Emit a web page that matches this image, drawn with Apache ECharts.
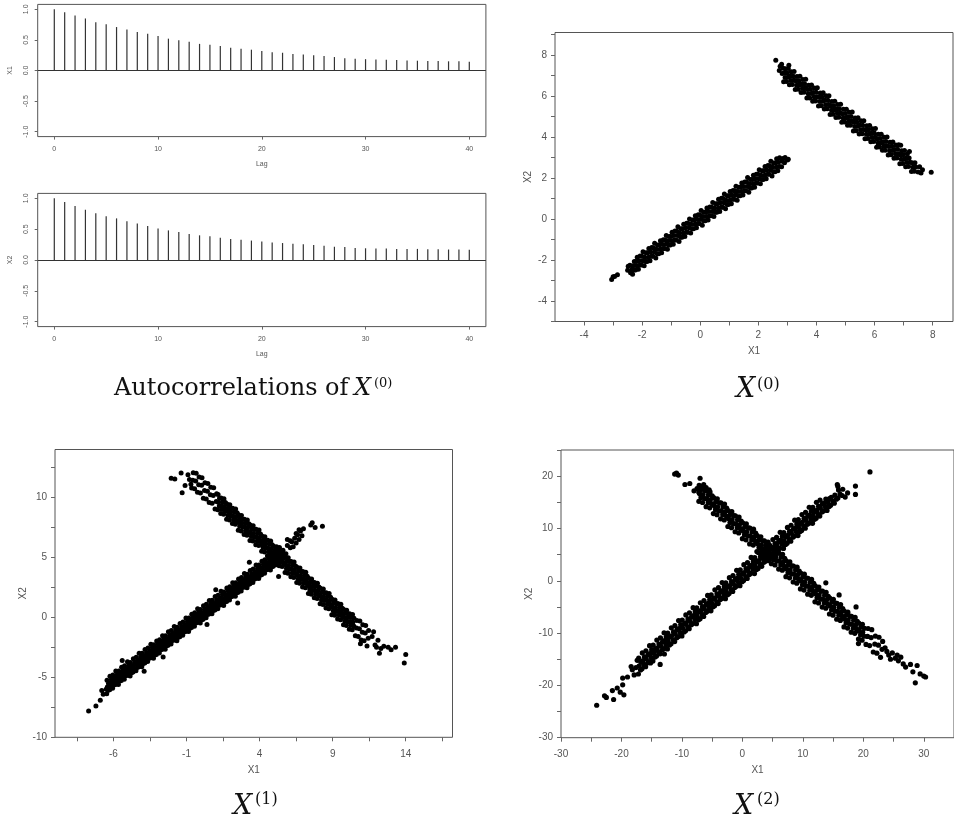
<!DOCTYPE html>
<html><head><meta charset="utf-8">
<script src="https://cdn.jsdelivr.net/npm/echarts@6/dist/echarts.min.js"></script>
<style>html,body{margin:0;padding:0;background:#fff}#c{width:954px;height:820px}</style>
</head><body><div id="c"></div><script>
// ---------- ACF data ----------
const lags = [0,1,2,3,4,5,6,7,8,9,10,11,12,13,14,15,16,17,18,19,20,21,22,23,24,25,26,27,28,29,30,31,32,33,34,35,36,37,38,39,40];
const acfX1 = [1.0,0.95,0.90,0.85,0.79,0.755,0.71,0.67,0.63,0.60,0.565,0.52,0.495,0.47,0.435,0.42,0.40,0.37,0.355,0.34,0.32,0.30,0.29,0.27,0.26,0.25,0.235,0.22,0.20,0.19,0.185,0.18,0.175,0.17,0.165,0.16,0.155,0.155,0.15,0.15,0.145];
const acfX2 = [1.0,0.94,0.875,0.815,0.76,0.71,0.675,0.63,0.59,0.55,0.51,0.48,0.455,0.42,0.40,0.385,0.36,0.34,0.33,0.315,0.30,0.285,0.275,0.265,0.255,0.245,0.23,0.215,0.21,0.195,0.19,0.185,0.185,0.18,0.18,0.18,0.175,0.175,0.17,0.17,0.165];

// ---------- X(0) scatter ----------
const x0Lower = [[-3.05,-2.95],[-2.95,-2.8],[-2.85,-2.72],[-3.0,-2.82],
[-2.5,-2.5],[-2.48,-2.3],[-2.4,-2.62],[-2.42,-2.25],[-2.35,-2.45],
[-2.33,-2.7],[-2.28,-2.49],[-2.31,-2.28],[-2.27,-2.07],
[-2.23,-2.49],[-2.18,-2.28],[-2.21,-2.07],[-2.17,-1.86],
[-2.13,-2.45],[-2.08,-2.24],[-2.11,-2.03],[-2.07,-1.81],
[-2.03,-2.24],[-1.98,-2.03],[-2.01,-1.82],[-1.97,-1.6],
[-1.93,-2.28],[-1.88,-2.07],[-1.91,-1.86],[-1.87,-1.65],
[-1.83,-2.07],[-1.78,-1.86],[-1.81,-1.65],[-1.77,-1.44],
[-1.73,-2.03],[-1.68,-1.82],[-1.71,-1.61],[-1.67,-1.39],
[-1.63,-1.82],[-1.58,-1.61],[-1.61,-1.4],[-1.57,-1.18],
[-1.53,-1.9],[-1.48,-1.69],[-1.51,-1.48],[-1.47,-1.27],
[-1.43,-1.69],[-1.38,-1.48],[-1.41,-1.27],[-1.37,-1.06],
[-1.33,-1.65],[-1.28,-1.44],[-1.31,-1.23],[-1.27,-1.01],
[-1.23,-1.44],[-1.18,-1.23],[-1.21,-1.02],[-1.17,-0.8],
[-1.13,-1.48],[-1.08,-1.27],[-1.11,-1.06],[-1.07,-0.85],
[-1.03,-1.27],[-0.98,-1.06],[-1.01,-0.85],[-0.97,-0.64],
[-0.93,-1.23],[-0.88,-1.02],[-0.91,-0.81],[-0.87,-0.59],
[-0.83,-1.02],[-0.78,-0.81],[-0.81,-0.6],[-0.77,-0.38],
[-0.73,-1.1],[-0.68,-0.89],[-0.71,-0.68],[-0.67,-0.47],
[-0.63,-0.89],[-0.58,-0.68],[-0.61,-0.47],[-0.57,-0.26],
[-0.53,-0.85],[-0.48,-0.64],[-0.51,-0.43],[-0.47,-0.21],
[-0.43,-0.64],[-0.38,-0.43],[-0.41,-0.22],[-0.37,0.0],
[-0.33,-0.68],[-0.28,-0.47],[-0.31,-0.26],[-0.27,-0.05],
[-0.23,-0.47],[-0.18,-0.26],[-0.21,-0.05],[-0.17,0.16],
[-0.13,-0.43],[-0.08,-0.22],[-0.11,-0.01],[-0.07,0.21],
[-0.03,-0.22],[0.02,-0.01],[-0.01,0.2],[0.03,0.42],
[0.07,-0.3],[0.12,-0.09],[0.09,0.12],[0.13,0.33],
[0.17,-0.09],[0.22,0.12],[0.19,0.33],[0.23,0.54],
[0.27,-0.05],[0.32,0.16],[0.29,0.37],[0.33,0.59],
[0.37,0.16],[0.42,0.37],[0.39,0.58],[0.43,0.8],
[0.47,0.12],[0.52,0.33],[0.49,0.54],[0.53,0.75],
[0.57,0.33],[0.62,0.54],[0.59,0.75],[0.63,0.96],
[0.67,0.37],[0.72,0.58],[0.69,0.79],[0.73,1.01],
[0.77,0.58],[0.82,0.79],[0.79,1.0],[0.83,1.22],
[0.87,0.5],[0.92,0.71],[0.89,0.92],[0.93,1.13],
[0.97,0.71],[1.02,0.92],[0.99,1.13],[1.03,1.34],
[1.07,0.75],[1.12,0.96],[1.09,1.17],[1.13,1.39],
[1.17,0.96],[1.22,1.17],[1.19,1.38],[1.23,1.6],
[1.27,0.92],[1.32,1.13],[1.29,1.34],[1.33,1.55],
[1.37,1.13],[1.42,1.34],[1.39,1.55],[1.43,1.76],
[1.47,1.17],[1.52,1.38],[1.49,1.59],[1.53,1.81],
[1.57,1.38],[1.62,1.59],[1.59,1.8],[1.63,2.02],
[1.67,1.3],[1.72,1.51],[1.69,1.72],[1.73,1.93],
[1.77,1.51],[1.82,1.72],[1.79,1.93],[1.83,2.14],
[1.87,1.55],[1.92,1.76],[1.89,1.97],[1.93,2.19],
[1.97,1.76],[2.02,1.97],[1.99,2.18],[2.03,2.4],
[2.07,1.72],[2.12,1.93],[2.09,2.14],[2.13,2.35],
[2.17,1.93],[2.22,2.14],[2.19,2.35],[2.23,2.56],
[2.27,1.97],[2.32,2.18],[2.29,2.39],[2.33,2.61],
[2.37,2.18],[2.42,2.39],[2.39,2.6],[2.43,2.82],
[2.47,2.1],[2.52,2.31],[2.49,2.52],[2.53,2.73],
[2.57,2.31],[2.62,2.52],[2.59,2.73],[2.63,2.94],
[2.67,2.35],[2.72,2.56],[2.69,2.77],[2.73,2.99],
[2.8,2.55],[2.82,2.82],[2.9,2.75],[2.92,3.0],[3.0,2.88],[3.03,2.92],[2.85,2.95]];
const x0Upper = [[2.6,7.75],[2.75,7.45],[2.72,7.25],[2.8,7.55],[2.82,7.1],[2.85,7.35],[3.05,7.5],
[2.87,6.7],[2.92,6.91],[2.89,7.12],[2.93,7.33],
[2.97,6.71],[3.02,6.92],[2.99,7.13],[3.03,7.34],
[3.07,6.55],[3.12,6.76],[3.09,6.97],[3.13,7.19],
[3.17,6.56],[3.22,6.77],[3.19,6.98],[3.23,7.2],
[3.27,6.32],[3.32,6.53],[3.29,6.74],[3.33,6.95],
[3.37,6.33],[3.42,6.54],[3.39,6.75],[3.43,6.96],
[3.47,6.17],[3.52,6.38],[3.49,6.59],[3.53,6.81],
[3.57,6.18],[3.62,6.39],[3.59,6.6],[3.63,6.82],
[3.67,5.9],[3.72,6.11],[3.69,6.32],[3.73,6.53],
[3.77,5.91],[3.82,6.12],[3.79,6.33],[3.83,6.54],
[3.87,5.75],[3.92,5.96],[3.89,6.17],[3.93,6.39],
[3.97,5.76],[4.02,5.97],[3.99,6.18],[4.03,6.4],
[4.07,5.52],[4.12,5.73],[4.09,5.94],[4.13,6.15],
[4.17,5.53],[4.22,5.74],[4.19,5.95],[4.23,6.16],
[4.27,5.37],[4.32,5.58],[4.29,5.79],[4.33,6.01],
[4.37,5.38],[4.42,5.59],[4.39,5.8],[4.43,6.02],
[4.47,5.1],[4.52,5.31],[4.49,5.52],[4.53,5.73],
[4.57,5.11],[4.62,5.32],[4.59,5.53],[4.63,5.74],
[4.67,4.95],[4.72,5.16],[4.69,5.37],[4.73,5.59],
[4.77,4.96],[4.82,5.17],[4.79,5.38],[4.83,5.6],
[4.87,4.72],[4.92,4.93],[4.89,5.14],[4.93,5.35],
[4.97,4.73],[5.02,4.94],[4.99,5.15],[5.03,5.36],
[5.07,4.57],[5.12,4.78],[5.09,4.99],[5.13,5.21],
[5.17,4.58],[5.22,4.79],[5.19,5.0],[5.23,5.22],
[5.27,4.3],[5.32,4.51],[5.29,4.72],[5.33,4.93],
[5.37,4.31],[5.42,4.52],[5.39,4.73],[5.43,4.94],
[5.47,4.15],[5.52,4.36],[5.49,4.57],[5.53,4.79],
[5.57,4.16],[5.62,4.37],[5.59,4.58],[5.63,4.8],
[5.67,3.92],[5.72,4.13],[5.69,4.34],[5.73,4.55],
[5.77,3.93],[5.82,4.14],[5.79,4.35],[5.83,4.56],
[5.87,3.77],[5.92,3.98],[5.89,4.19],[5.93,4.41],
[5.97,3.78],[6.02,3.99],[5.99,4.2],[6.03,4.42],
[6.07,3.5],[6.12,3.71],[6.09,3.92],[6.13,4.13],
[6.17,3.51],[6.22,3.72],[6.19,3.93],[6.23,4.14],
[6.27,3.35],[6.32,3.56],[6.29,3.77],[6.33,3.99],
[6.37,3.36],[6.42,3.57],[6.39,3.78],[6.43,4.0],
[6.47,3.12],[6.52,3.33],[6.49,3.54],[6.53,3.75],
[6.57,3.13],[6.62,3.34],[6.59,3.55],[6.63,3.76],
[6.67,2.97],[6.72,3.18],[6.69,3.39],[6.73,3.61],
[6.77,2.98],[6.82,3.19],[6.79,3.4],[6.83,3.62],
[6.87,2.7],[6.92,2.91],[6.89,3.12],[6.93,3.33],
[6.97,2.71],[7.02,2.92],[6.99,3.13],[7.03,3.34],
[7.07,2.55],[7.12,2.76],[7.09,2.97],[7.13,3.19],
[7.17,2.56],[7.22,2.77],[7.19,2.98],
[7.27,2.32],[7.32,2.53],[7.29,2.74],
[7.37,2.33],[7.42,2.54],[7.39,2.75],
[7.5,2.3],[7.55,2.55],[7.6,2.25],[7.65,2.4],[7.95,2.28],[7.2,3.3],[6.9,3.6]];

// ---------- X(1) scatter ----------
const x1Rising = [[-7.7,-7.8],[-7.2,-7.4],[-6.9,-6.9],[-6.8,-6.1],[-6.5,-6.0],[-6.7,-6.4],
[-6.46,-6.36],[-6.36,-6.08],[-6.42,-5.8],[-6.34,-5.52],[-6.44,-5.24],
[-6.26,-6.03],[-6.16,-5.75],[-6.22,-5.47],[-6.14,-5.19],[-6.24,-4.91],
[-6.06,-5.92],[-5.96,-5.64],[-6.02,-5.36],[-5.94,-5.08],[-6.04,-4.8],
[-5.86,-5.6],[-5.76,-5.32],[-5.82,-5.04],[-5.74,-4.76],[-5.84,-4.48],
[-5.66,-5.59],[-5.56,-5.31],[-5.62,-5.03],[-5.54,-4.75],[-5.64,-4.47],
[-5.46,-5.27],[-5.36,-4.99],[-5.42,-4.71],[-5.34,-4.43],[-5.44,-4.15],
[-5.26,-5.15],[-5.16,-4.87],[-5.22,-4.59],[-5.14,-4.31],[-5.24,-4.03],
[-5.06,-4.83],[-4.96,-4.55],[-5.02,-4.27],[-4.94,-3.99],[-5.04,-3.71],
[-4.86,-4.89],[-4.76,-4.61],[-4.82,-4.33],[-4.74,-4.05],[-4.84,-3.77],
[-4.66,-4.56],[-4.56,-4.28],[-4.62,-4.0],[-4.54,-3.72],[-4.64,-3.44],
[-4.46,-4.45],[-4.36,-4.17],[-4.42,-3.89],[-4.34,-3.61],[-4.44,-3.33],
[-4.26,-4.12],[-4.16,-3.84],[-4.22,-3.56],[-4.14,-3.28],[-4.24,-3.0],
[-4.06,-4.12],[-3.96,-3.84],[-4.02,-3.56],[-3.94,-3.28],[-4.04,-3.0],
[-3.86,-3.8],[-3.76,-3.52],[-3.82,-3.24],[-3.74,-2.96],[-3.84,-2.68],
[-3.66,-3.68],[-3.56,-3.4],[-3.62,-3.12],[-3.54,-2.84],[-3.64,-2.56],
[-3.46,-3.36],[-3.36,-3.08],[-3.42,-2.8],[-3.34,-2.52],[-3.44,-2.24],
[-3.26,-3.41],[-3.16,-3.13],[-3.22,-2.85],[-3.14,-2.57],[-3.24,-2.29],
[-3.06,-3.09],[-2.96,-2.81],[-3.02,-2.53],[-2.94,-2.25],[-3.04,-1.97],
[-2.86,-2.98],[-2.76,-2.7],[-2.82,-2.42],[-2.74,-2.14],[-2.84,-1.86],
[-2.66,-2.65],[-2.56,-2.37],[-2.62,-2.09],[-2.54,-1.81],[-2.64,-1.53],
[-2.46,-2.65],[-2.36,-2.37],[-2.42,-2.09],[-2.34,-1.81],[-2.44,-1.53],
[-2.26,-2.32],[-2.16,-2.04],[-2.22,-1.76],[-2.14,-1.48],[-2.24,-1.2],
[-2.06,-2.21],[-1.96,-1.93],[-2.02,-1.65],[-1.94,-1.37],[-2.04,-1.09],
[-1.86,-1.89],[-1.76,-1.61],[-1.82,-1.33],[-1.74,-1.05],[-1.84,-0.77],
[-1.66,-1.94],[-1.56,-1.66],[-1.62,-1.38],[-1.54,-1.1],[-1.64,-0.82],
[-1.46,-1.62],[-1.36,-1.34],[-1.42,-1.06],[-1.34,-0.78],[-1.44,-0.5],
[-1.26,-1.5],[-1.16,-1.22],[-1.22,-0.94],[-1.14,-0.66],[-1.24,-0.38],
[-1.06,-1.18],[-0.96,-0.9],[-1.02,-0.62],[-0.94,-0.34],[-1.04,-0.06],
[-0.86,-1.18],[-0.76,-0.9],[-0.82,-0.62],[-0.74,-0.34],[-0.84,-0.06],
[-0.66,-0.85],[-0.56,-0.57],[-0.62,-0.29],[-0.54,-0.01],[-0.64,0.27],
[-0.46,-0.74],[-0.36,-0.46],[-0.42,-0.18],[-0.34,0.1],[-0.44,0.38],
[-0.26,-0.41],[-0.16,-0.13],[-0.22,0.15],[-0.14,0.43],[-0.24,0.71],
[-0.06,-0.47],[0.04,-0.19],[-0.02,0.09],[0.06,0.37],[-0.04,0.65],
[0.14,-0.15],[0.24,0.13],[0.18,0.41],[0.26,0.69],[0.16,0.97],
[0.34,-0.03],[0.44,0.25],[0.38,0.53],[0.46,0.81],[0.36,1.09],
[0.54,0.29],[0.64,0.57],[0.58,0.85],[0.66,1.13],[0.56,1.41],
[0.74,0.3],[0.84,0.58],[0.78,0.86],[0.86,1.14],[0.76,1.42],
[0.94,0.62],[1.04,0.9],[0.98,1.18],[1.06,1.46],[0.96,1.74],
[1.14,0.73],[1.24,1.01],[1.18,1.29],[1.26,1.57],[1.16,1.85],
[1.34,1.06],[1.44,1.34],[1.38,1.62],[1.46,1.9],[1.36,2.18],
[1.54,1.0],[1.64,1.28],[1.58,1.56],[1.66,1.84],[1.56,2.12],
[1.74,1.33],[1.84,1.61],[1.78,1.89],[1.86,2.17],[1.76,2.45],
[1.94,1.44],[2.04,1.72],[1.98,2.0],[2.06,2.28],[1.96,2.56],
[2.14,1.76],[2.24,2.04],[2.18,2.32],[2.26,2.6],[2.16,2.88],
[2.34,1.77],[2.44,2.05],[2.38,2.33],[2.46,2.61],[2.36,2.89],
[2.54,2.09],[2.64,2.37],[2.58,2.65],[2.66,2.93],[2.56,3.21],
[2.74,2.21],[2.84,2.49],[2.78,2.77],[2.86,3.05],[2.76,3.33],
[2.94,2.53],[3.04,2.81],[2.98,3.09],[3.06,3.37],[2.96,3.65],
[3.14,2.47],[3.24,2.75],[3.18,3.03],[3.26,3.31],[3.16,3.59],
[3.34,2.8],[3.44,3.08],[3.38,3.36],[3.46,3.64],[3.36,3.92],
[3.54,2.91],[3.64,3.19],[3.58,3.47],[3.66,3.75],[3.56,4.03],
[3.74,3.24],[3.84,3.52],[3.78,3.8],[3.86,4.08],[3.76,4.36],
[3.94,3.24],[4.04,3.52],[3.98,3.8],[4.06,4.08],[3.96,4.36],
[4.14,3.56],[4.24,3.84],[4.18,4.12],[4.26,4.4],[4.16,4.68],
[4.34,3.68],[4.44,3.96],[4.38,4.24],[4.46,4.52],[4.36,4.8],
[4.54,4.0],[4.64,4.28],[4.58,4.56],[4.66,4.84],[4.56,5.12],
[4.74,3.95],[4.84,4.23],[4.78,4.51],[4.86,4.79],[4.76,5.07],
[4.94,4.27],[5.04,4.55],[4.98,4.83],[5.06,5.11],[4.96,5.39],
[5.14,4.38],[5.24,4.66],[5.18,4.94],[5.26,5.22],[5.16,5.5],
[5.34,4.71],[5.44,4.99],[5.38,5.27],[5.46,5.55],[5.36,5.83],
[5.6,5.6],[5.8,5.3],[5.9,6.0],[6.1,5.8],[6.2,6.3],[6.3,5.9],[6.4,6.6],[6.5,6.2],[6.6,6.9],[6.7,6.5],[6.8,7.2],[6.9,6.8],[7.0,7.4],[6.5,7.0],[5.9,6.5],[7.5,7.7],[7.8,7.5],[8.3,7.6],[7.6,7.9],[6.1,6.4],[6.7,7.3],
[-2.6,-3.3],[1.0,2.3],[3.3,4.6],[-5.4,-3.6],[2.5,1.2],[-3.9,-4.5],[0.4,-0.6]];
const x1Falling = [[-2.05,11.6],[-1.8,11.55],[-1.37,12.05],[-1.3,10.4],[-0.8,11.5],[-0.7,11.1],[-1.1,11.0],[-0.9,11.9],
[-0.65,10.79],[-0.57,11.43],[-0.54,12.07],
[-0.45,10.73],[-0.37,11.37],[-0.34,12.01],
[-0.25,10.43],[-0.17,11.07],[-0.14,11.71],
[-0.05,10.37],[0.03,11.01],[0.06,11.65],
[0.15,9.94],[0.23,10.58],[0.26,11.22],
[0.35,9.88],[0.43,10.52],[0.46,11.16],
[0.55,9.58],[0.63,10.22],[0.66,10.86],
[0.75,9.52],[0.83,10.16],[0.86,10.8],
[0.95,9.03],[1.03,9.67],[1.06,10.31],
[1.14,8.97],[1.24,9.29],[1.18,9.61],[1.26,9.93],[1.16,10.25],
[1.34,8.67],[1.44,8.99],[1.38,9.31],[1.46,9.63],[1.36,9.95],
[1.54,8.61],[1.64,8.93],[1.58,9.25],[1.66,9.57],[1.56,9.89],
[1.74,8.18],[1.84,8.5],[1.78,8.82],[1.86,9.14],[1.76,9.46],
[1.94,8.12],[2.04,8.44],[1.98,8.76],[2.06,9.08],[1.96,9.4],
[2.14,7.82],[2.24,8.14],[2.18,8.46],[2.26,8.78],[2.16,9.1],
[2.34,7.76],[2.44,8.08],[2.38,8.4],[2.46,8.72],[2.36,9.04],
[2.54,7.27],[2.64,7.59],[2.58,7.91],[2.66,8.23],[2.56,8.55],
[2.74,7.21],[2.84,7.53],[2.78,7.85],[2.86,8.17],[2.76,8.49],
[2.94,6.91],[3.04,7.23],[2.98,7.55],[3.06,7.87],[2.96,8.19],
[3.14,6.85],[3.24,7.17],[3.18,7.49],[3.26,7.81],[3.16,8.13],
[3.34,6.42],[3.44,6.74],[3.38,7.06],[3.46,7.38],[3.36,7.7],
[3.54,6.36],[3.64,6.68],[3.58,7.0],[3.66,7.32],[3.56,7.64],
[3.74,6.06],[3.84,6.38],[3.78,6.7],[3.86,7.02],[3.76,7.34],
[3.94,6.0],[4.04,6.32],[3.98,6.64],[4.06,6.96],[3.96,7.28],
[4.14,5.51],[4.24,5.83],[4.18,6.15],[4.26,6.47],[4.16,6.79],
[4.34,5.45],[4.44,5.77],[4.38,6.09],[4.46,6.41],[4.36,6.73],
[4.54,5.15],[4.64,5.47],[4.58,5.79],[4.66,6.11],[4.56,6.43],
[4.74,5.09],[4.84,5.41],[4.78,5.73],[4.86,6.05],[4.76,6.37],
[4.94,4.66],[5.04,4.98],[4.98,5.3],[5.06,5.62],[4.96,5.94],
[5.14,4.6],[5.24,4.92],[5.18,5.24],[5.26,5.56],[5.16,5.88],
[5.34,4.3],[5.44,4.62],[5.38,4.94],[5.46,5.26],[5.36,5.58],
[5.54,4.24],[5.64,4.56],[5.58,4.88],[5.66,5.2],[5.56,5.52],
[5.74,3.75],[5.84,4.07],[5.78,4.39],[5.86,4.71],[5.76,5.03],
[5.94,3.69],[6.04,4.01],[5.98,4.33],[6.06,4.65],[5.96,4.97],
[6.14,3.39],[6.24,3.71],[6.18,4.03],[6.26,4.35],[6.16,4.67],
[6.34,3.33],[6.44,3.65],[6.38,3.97],[6.46,4.29],[6.36,4.61],
[6.54,2.9],[6.64,3.22],[6.58,3.54],[6.66,3.86],[6.56,4.18],
[6.74,2.84],[6.84,3.16],[6.78,3.48],[6.86,3.8],[6.76,4.12],
[6.94,2.54],[7.04,2.86],[6.98,3.18],[7.06,3.5],[6.96,3.82],
[7.14,2.48],[7.24,2.8],[7.18,3.12],[7.26,3.44],[7.16,3.76],
[7.34,1.99],[7.44,2.31],[7.38,2.63],[7.46,2.95],[7.36,3.27],
[7.54,1.93],[7.64,2.25],[7.58,2.57],[7.66,2.89],[7.56,3.21],
[7.74,1.63],[7.84,1.95],[7.78,2.27],[7.86,2.59],[7.76,2.91],
[7.94,1.57],[8.04,1.89],[7.98,2.21],[8.06,2.53],[7.96,2.85],
[8.14,1.14],[8.24,1.46],[8.18,1.78],[8.26,2.1],[8.16,2.42],
[8.34,1.08],[8.44,1.4],[8.38,1.72],[8.46,2.04],[8.36,2.36],
[8.54,0.78],[8.64,1.1],[8.58,1.42],[8.66,1.74],[8.56,2.06],
[8.74,0.72],[8.84,1.04],[8.78,1.36],[8.86,1.68],[8.76,2.0],
[8.94,0.23],[9.04,0.55],[8.98,0.87],[9.06,1.19],[8.96,1.51],
[9.14,0.17],[9.24,0.49],[9.18,0.81],[9.26,1.13],[9.16,1.45],
[9.34,-0.13],[9.44,0.19],[9.38,0.51],[9.46,0.83],[9.36,1.15],
[9.54,-0.19],[9.64,0.13],[9.58,0.45],[9.66,0.77],[9.56,1.09],
[9.74,-0.62],[9.84,-0.3],[9.78,0.02],[9.86,0.34],[9.76,0.66],
[9.94,-0.68],[10.04,-0.36],[9.98,-0.04],[10.06,0.28],[9.96,0.6],
[10.14,-0.98],[10.24,-0.66],[10.18,-0.34],[10.26,-0.02],[10.16,0.3],
[10.34,-1.04],[10.44,-0.72],[10.38,-0.4],[10.46,-0.08],[10.36,0.24],
[10.55,-1.53],[10.63,-0.89],[10.66,-0.25],
[10.75,-1.59],[10.83,-0.95],[10.86,-0.31],
[10.95,-1.89],[11.03,-1.25],[11.06,-0.61],
[11.15,-1.95],[11.23,-1.31],[11.26,-0.67],
[11.35,-2.38],[11.43,-1.74],[11.46,-1.1],
[11.7,-1.6],[11.9,-2.3],[12.1,-1.9],[12.3,-2.6],[12.5,-2.4],[12.8,-2.5],[13.0,-2.7],[13.3,-2.5],[12.0,-2.5],[13.9,-3.8],[14.0,-3.1],[10.9,-2.2],[5.3,3.4],[11.8,-1.2],[12.2,-3.0]];

// ---------- X(2) scatter ----------
const x2Rising = [[-24.1,-23.8],[-22.8,-22.0],[-22.5,-22.3],[-21.5,-21.0],[-21.3,-22.7],[-20.7,-20.5],[-20.2,-21.3],[-19.8,-19.9],[-19.6,-21.8],[-19.8,-18.6],[-19.0,-18.4],[-18.2,-17.0],[-18.4,-16.4],[-17.9,-18.0],[-17.6,-16.6],[-17.4,-15.2],[-16.3,-16.0],[-15.2,-15.7],[-14.5,-13.4],[-13.6,-16.0],[-12.9,-14.0],
[-17.2,-17.82],[-16.85,-17.06],[-17.1,-16.3],[-16.8,-15.54],[-17.15,-14.78],
[-16.6,-16.84],[-16.25,-16.08],[-16.5,-15.32],[-16.2,-14.56],[-16.55,-13.8],
[-16.0,-16.43],[-15.65,-15.67],[-15.9,-14.91],[-15.6,-14.15],[-15.95,-13.39],
[-15.4,-15.45],[-15.05,-14.69],[-15.3,-13.93],[-15.0,-13.17],[-15.35,-12.41],
[-14.8,-15.35],[-14.45,-14.59],[-14.7,-13.83],[-14.4,-13.07],[-14.75,-12.31],
[-14.2,-14.37],[-13.85,-13.61],[-14.1,-12.85],[-13.8,-12.09],[-14.15,-11.33],
[-13.6,-13.96],[-13.25,-13.2],[-13.5,-12.44],[-13.2,-11.68],[-13.55,-10.92],
[-13.0,-12.98],[-12.65,-12.22],[-12.9,-11.46],[-12.6,-10.7],[-12.95,-9.94],
[-12.4,-13.02],[-12.05,-12.26],[-12.3,-11.5],[-12.0,-10.74],[-12.35,-9.98],
[-11.8,-12.04],[-11.45,-11.28],[-11.7,-10.52],[-11.4,-9.76],[-11.75,-9.0],
[-11.2,-11.63],[-10.85,-10.87],[-11.1,-10.11],[-10.8,-9.35],[-11.15,-8.59],
[-10.6,-10.65],[-10.25,-9.89],[-10.5,-9.13],[-10.2,-8.37],[-10.55,-7.61],
[-10.0,-10.55],[-9.65,-9.79],[-9.9,-9.03],[-9.6,-8.27],[-9.95,-7.51],
[-9.4,-9.57],[-9.05,-8.81],[-9.3,-8.05],[-9.0,-7.29],[-9.35,-6.53],
[-8.8,-9.16],[-8.45,-8.4],[-8.7,-7.64],[-8.4,-6.88],[-8.75,-6.12],
[-8.2,-8.18],[-7.85,-7.42],[-8.1,-6.66],[-7.8,-5.9],[-8.15,-5.14],
[-7.6,-8.22],[-7.25,-7.46],[-7.5,-6.7],[-7.2,-5.94],[-7.55,-5.18],
[-7.0,-7.24],[-6.65,-6.48],[-6.9,-5.72],[-6.6,-4.96],[-6.95,-4.2],
[-6.4,-6.83],[-6.05,-6.07],[-6.3,-5.31],[-6.0,-4.55],[-6.35,-3.79],
[-5.8,-5.85],[-5.45,-5.09],[-5.7,-4.33],[-5.4,-3.57],[-5.75,-2.81],
[-5.2,-5.75],[-4.85,-4.99],[-5.1,-4.23],[-4.8,-3.47],[-5.15,-2.71],
[-4.6,-4.77],[-4.25,-4.01],[-4.5,-3.25],[-4.2,-2.49],[-4.55,-1.73],
[-4.0,-4.36],[-3.65,-3.6],[-3.9,-2.84],[-3.6,-2.08],[-3.95,-1.32],
[-3.4,-3.38],[-3.05,-2.62],[-3.3,-1.86],[-3.0,-1.1],[-3.35,-0.34],
[-2.8,-3.42],[-2.45,-2.66],[-2.7,-1.9],[-2.4,-1.14],[-2.75,-0.38],
[-2.2,-2.44],[-1.85,-1.68],[-2.1,-0.92],[-1.8,-0.16],[-2.15,0.6],
[-1.6,-2.03],[-1.25,-1.27],[-1.5,-0.51],[-1.2,0.25],[-1.55,1.01],
[-1.0,-1.05],[-0.65,-0.29],[-0.9,0.47],[-0.6,1.23],[-0.95,1.99],
[-0.4,-0.95],[-0.05,-0.19],[-0.3,0.57],[0.0,1.33],[-0.35,2.09],
[0.2,0.03],[0.55,0.79],[0.3,1.55],[0.6,2.31],[0.25,3.07],
[0.8,0.44],[1.15,1.2],[0.9,1.96],[1.2,2.72],[0.85,3.48],
[1.4,1.42],[1.75,2.18],[1.5,2.94],[1.8,3.7],[1.45,4.46],
[2.0,1.38],[2.35,2.14],[2.1,2.9],[2.4,3.66],[2.05,4.42],
[2.6,2.36],[2.95,3.12],[2.7,3.88],[3.0,4.64],[2.65,5.4],
[3.2,2.77],[3.55,3.53],[3.3,4.29],[3.6,5.05],[3.25,5.81],
[3.8,3.75],[4.15,4.51],[3.9,5.27],[4.2,6.03],[3.85,6.79],
[4.4,3.85],[4.75,4.61],[4.5,5.37],[4.8,6.13],[4.45,6.89],
[5.0,4.83],[5.35,5.59],[5.1,6.35],[5.4,7.11],[5.05,7.87],
[5.6,5.24],[5.95,6.0],[5.7,6.76],[6.0,7.52],[5.65,8.28],
[6.2,6.22],[6.55,6.98],[6.3,7.74],[6.6,8.5],[6.25,9.26],
[6.8,6.18],[7.15,6.94],[6.9,7.7],[7.2,8.46],[6.85,9.22],
[7.4,7.16],[7.75,7.92],[7.5,8.68],[7.8,9.44],[7.45,10.2],
[8.0,7.57],[8.35,8.33],[8.1,9.09],[8.4,9.85],[8.05,10.61],
[8.6,8.55],[8.95,9.31],[8.7,10.07],[9.0,10.83],[8.65,11.59],
[9.2,8.65],[9.55,9.41],[9.3,10.17],[9.6,10.93],[9.25,11.69],
[9.8,9.63],[10.15,10.39],[9.9,11.15],[10.2,11.91],[9.85,12.67],
[10.4,10.04],[10.75,10.8],[10.5,11.56],[10.8,12.32],[10.45,13.08],
[11.0,11.02],[11.35,11.78],[11.1,12.54],[11.4,13.3],[11.05,14.06],
[11.6,10.98],[11.95,11.74],[11.7,12.5],[12.0,13.26],[11.65,14.02],
[12.2,11.96],[12.55,12.72],[12.3,13.48],[12.6,14.24],[12.25,15.0],
[12.8,12.37],[13.15,13.13],[12.9,13.89],[13.2,14.65],[12.85,15.41],
[13.4,13.35],[13.75,14.11],[13.5,14.87],[13.8,15.63],
[14.0,13.45],[14.35,14.21],[14.1,14.97],[14.4,15.73],
[14.6,14.43],[14.95,15.19],[14.7,15.95],
[15.2,14.84],[15.55,15.6],[15.3,16.36],
[15.8,15.82],[16.15,16.58],[15.9,17.34],
[15.7,18.4],[15.8,18.0],[16.5,16.3],[17.0,16.0],[18.7,18.1],[18.7,16.5],[21.1,20.8],[16.6,17.5],[17.4,16.8]];
const x2Falling = [[-11.2,20.4],[-10.9,20.6],[-10.6,20.2],[-9.5,18.4],[-8.7,18.6],[-7.0,19.6],[-7.5,17.6],[-8.0,17.2],[-6.4,18.4],[-6.0,17.8],[-5.5,17.4],[-7.2,16.9],
[-7.2,15.18],[-6.85,15.94],[-7.1,16.7],[-6.8,17.46],[-7.15,18.22],
[-6.6,14.96],[-6.25,15.72],[-6.5,16.48],[-6.2,17.24],[-6.55,18.0],
[-6.0,14.17],[-5.65,14.93],[-5.9,15.69],[-5.6,16.45],[-5.95,17.21],
[-5.4,13.95],[-5.05,14.71],[-5.3,15.47],[-5.0,16.23],[-5.35,16.99],
[-4.8,12.85],[-4.45,13.61],[-4.7,14.37],[-4.4,15.13],[-4.75,15.89],
[-4.2,12.63],[-3.85,13.39],[-4.1,14.15],[-3.8,14.91],[-4.15,15.67],
[-3.6,11.84],[-3.25,12.6],[-3.5,13.36],[-3.2,14.12],[-3.55,14.88],
[-3.0,11.62],[-2.65,12.38],[-2.9,13.14],[-2.6,13.9],[-2.95,14.66],
[-2.4,10.38],[-2.05,11.14],[-2.3,11.9],[-2.0,12.66],[-2.35,13.42],
[-1.8,10.16],[-1.45,10.92],[-1.7,11.68],[-1.4,12.44],[-1.75,13.2],
[-1.2,9.37],[-0.85,10.13],[-1.1,10.89],[-0.8,11.65],[-1.15,12.41],
[-0.6,9.15],[-0.25,9.91],[-0.5,10.67],[-0.2,11.43],[-0.55,12.19],
[0.0,8.05],[0.35,8.81],[0.1,9.57],[0.4,10.33],[0.05,11.09],
[0.6,7.83],[0.95,8.59],[0.7,9.35],[1.0,10.11],[0.65,10.87],
[1.2,7.04],[1.55,7.8],[1.3,8.56],[1.6,9.32],[1.25,10.08],
[1.8,6.82],[2.15,7.58],[1.9,8.34],[2.2,9.1],[1.85,9.86],
[2.4,5.58],[2.75,6.34],[2.5,7.1],[2.8,7.86],[2.45,8.62],
[3.0,5.36],[3.35,6.12],[3.1,6.88],[3.4,7.64],[3.05,8.4],
[3.6,4.57],[3.95,5.33],[3.7,6.09],[4.0,6.85],[3.65,7.61],
[4.2,4.35],[4.55,5.11],[4.3,5.87],[4.6,6.63],[4.25,7.39],
[4.8,3.25],[5.15,4.01],[4.9,4.77],[5.2,5.53],[4.85,6.29],
[5.4,3.03],[5.75,3.79],[5.5,4.55],[5.8,5.31],[5.45,6.07],
[6.0,2.24],[6.35,3.0],[6.1,3.76],[6.4,4.52],[6.05,5.28],
[6.6,2.02],[6.95,2.78],[6.7,3.54],[7.0,4.3],[6.65,5.06],
[7.2,0.78],[7.55,1.54],[7.3,2.3],[7.6,3.06],[7.25,3.82],
[7.8,0.56],[8.15,1.32],[7.9,2.08],[8.2,2.84],[7.85,3.6],
[8.4,-0.23],[8.75,0.53],[8.5,1.29],[8.8,2.05],[8.45,2.81],
[9.0,-0.45],[9.35,0.31],[9.1,1.07],[9.4,1.83],[9.05,2.59],
[9.6,-1.55],[9.95,-0.79],[9.7,-0.03],[10.0,0.73],[9.65,1.49],
[10.2,-1.77],[10.55,-1.01],[10.3,-0.25],[10.6,0.51],[10.25,1.27],
[10.8,-2.56],[11.15,-1.8],[10.9,-1.04],[11.2,-0.28],[10.85,0.48],
[11.4,-2.78],[11.75,-2.02],[11.5,-1.26],[11.8,-0.5],[11.45,0.26],
[12.0,-4.02],[12.35,-3.26],[12.1,-2.5],[12.4,-1.74],[12.05,-0.98],
[12.6,-4.24],[12.95,-3.48],[12.7,-2.72],[13.0,-1.96],[12.65,-1.2],
[13.2,-5.03],[13.55,-4.27],[13.3,-3.51],[13.6,-2.75],[13.25,-1.99],
[13.8,-5.25],[14.15,-4.49],[13.9,-3.73],[14.2,-2.97],[13.85,-2.21],
[14.4,-6.35],[14.75,-5.59],[14.5,-4.83],[14.8,-4.07],[14.45,-3.31],
[15.0,-6.57],[15.35,-5.81],[15.1,-5.05],[15.4,-4.29],[15.05,-3.53],
[15.6,-7.36],[15.95,-6.6],[15.7,-5.84],[16.0,-5.08],[15.65,-4.32],
[16.2,-7.58],[16.55,-6.82],[16.3,-6.06],[16.6,-5.3],[16.25,-4.54],
[16.8,-8.82],[17.15,-8.06],[16.9,-7.3],[17.2,-6.54],[16.85,-5.78],
[17.4,-9.04],[17.75,-8.28],[17.5,-7.52],[17.8,-6.76],[17.45,-6.0],
[18.0,-9.83],[18.35,-9.07],[18.1,-8.31],[18.4,-7.55],[18.05,-6.79],
[18.6,-10.05],[18.95,-9.29],[18.7,-8.53],[19.0,-7.77],[18.65,-7.01],
[19.2,-11.15],[19.55,-10.39],[19.3,-9.63],[19.6,-8.87],[19.25,-8.11],
[19.8,-11.37],[20.15,-10.61],[19.9,-9.85],[20.2,-9.09],[19.85,-8.33],
[20.45,-12.16],[20.7,-10.64],[20.8,-9.12],
[21.05,-12.38],[21.3,-10.86],[21.4,-9.34],
[21.65,-13.62],[21.9,-12.1],[22.0,-10.58],
[22.25,-13.84],[22.5,-12.32],[22.6,-10.8],
[22.85,-14.63],[23.1,-13.11],[23.2,-11.59],
[23.9,-13.5],[24.2,-14.2],[24.8,-13.8],[25.3,-14.8],[25.8,-15.3],[26.2,-14.6],[26.6,-15.9],[27.0,-16.5],[27.8,-16.0],[28.2,-17.4],[28.6,-19.5],[28.9,-16.2],[29.4,-17.8],[30.0,-18.2],[30.3,-18.4],[18.8,-5.0],[13.8,-0.4],[16.0,-2.7],[19.2,-12.0],[23.6,-12.8],[24.5,-15.0],[25.6,-14.2]];

// ---------- ticks / labels ----------
const acfLagLabels = [0,10,20,30,40];
const acfValLabels = [-1,-0.5,0,0.5,1];
const p0XTicks = [-4,-3,-2,-1,0,1,2,3,4,5,6,7,8];
const p0XLabels = [-4,-2,0,2,4,6,8];
const p0YTicks = [-5,-4,-3,-2,-1,0,1,2,3,4,5,6,7,8,9];
const p0YLabels = [-4,-2,0,2,4,6,8];
const p1XTicks = [-8.5,-6,-3.5,-1,1.5,4,6.5,9,11.5,14,16.5];
const p1XLabels = [-6,-1,4,9,14];
const p1YTicks = [-10,-7.5,-5,-2.5,0,2.5,5,7.5,10,12.5];
const p1YLabels = [-10,-5,0,5,10];
const p2XTicks = [-30,-25,-20,-15,-10,-5,0,5,10,15,20,25,30,35];
const p2XLabels = [-30,-20,-10,0,10,20,30];
const p2YTicks = [-30,-25,-20,-15,-10,-5,0,5,10,15,20,25];
const p2YLabels = [-30,-20,-10,0,10,20];

const SANS = 'Liberation Sans';
function ax(gi, min, max, ticks, labels, o) {
  return {
    type: 'value', gridIndex: gi, min: min, max: max,
    axisLine: {show: false, onZero: false}, splitLine: {show: false},
    axisTick: {show: true, inside: false, length: o.tl || 4, customValues: ticks, lineStyle: {color: '#666', width: 1}},
    axisLabel: {show: true, customValues: labels, fontSize: o.fs, color: '#555', margin: o.m,
      rotate: o.rot || 0, fontFamily: SANS, formatter: o.fmt || (v => String(v))},
    name: o.name, nameLocation: 'middle', nameGap: o.ng,
    nameTextStyle: {fontSize: o.fs, color: '#555', fontFamily: SANS}
  };
}
const f1 = v => v.toFixed(1);
const gridStyle = {show: true, borderColor: '#555', borderWidth: 1, backgroundColor: 'transparent', containLabel: false};

function acfSeries(idx, vals) {
  return {
    type: 'bar', xAxisIndex: idx, yAxisIndex: idx,
    data: lags.map((l, i) => [l, vals[i]]), barWidth: 1.2,
    itemStyle: {color: '#333'},
    markLine: {silent: true, symbol: 'none', label: {show: false},
      lineStyle: {color: '#333', type: 'solid', width: 1}, data: [{yAxis: 0}]}
  };
}
function sc(idx, data, size) {
  return {type: 'scatter', xAxisIndex: idx, yAxisIndex: idx, data: data,
    symbol: 'circle', symbolSize: size, itemStyle: {color: '#000', opacity: 1}};
}

const SERIF = '"DejaVu Serif"';
function txt(x, y, s, font) {
  return {type: 'text', x: x, y: y, silent: true,
    style: {text: s, font: font, fill: '#111', align: 'left', verticalAlign: 'middle'}};
}

const chart = echarts.init(document.getElementById('c'), null, {renderer: 'canvas'});
chart.setOption({
  animation: false,
  backgroundColor: '#fff',
  grid: [
    Object.assign({left: 37.7, top: 4.4, width: 448.2, height: 132.2}, gridStyle),
    Object.assign({left: 37.7, top: 193.4, width: 448.2, height: 133.2}, gridStyle),
    Object.assign({left: 555, top: 32.5, width: 398, height: 289}, gridStyle),
    Object.assign({left: 55, top: 449.5, width: 397.5, height: 287.8}, gridStyle),
    Object.assign({left: 561, top: 450, width: 394.6, height: 287.7}, gridStyle)
  ],
  xAxis: [
    ax(0, -1.6, 41.6, acfLagLabels, acfLagLabels, {fs: 7, m: 9, tl: 3, name: 'Lag', ng: 24}),
    ax(1, -1.6, 41.6, acfLagLabels, acfLagLabels, {fs: 7, m: 9, tl: 3, name: 'Lag', ng: 24}),
    ax(2, -5, 8.7, p0XTicks, p0XLabels, {fs: 10, m: 9, name: 'X1', ng: 25}),
    ax(3, -10, 17.2, p1XTicks, p1XLabels, {fs: 10, m: 12, name: 'X1', ng: 28}),
    ax(4, -30, 35, p2XTicks, p2XLabels, {fs: 10, m: 12, name: 'X1', ng: 28})
  ],
  yAxis: [
    ax(0, -1.08, 1.08, acfValLabels, acfValLabels, {fs: 7, m: 8, tl: 3, rot: 90, fmt: f1, name: 'X1', ng: 24}),
    ax(1, -1.08, 1.08, acfValLabels, acfValLabels, {fs: 7, m: 8, tl: 3, rot: 90, fmt: f1, name: 'X2', ng: 24}),
    ax(2, -5, 9.1, p0YTicks, p0YLabels, {fs: 10, m: 8, name: 'X2', ng: 22}),
    ax(3, -10, 14, p1YTicks, p1YLabels, {fs: 10, m: 8, name: 'X2', ng: 27}),
    ax(4, -30, 25, p2YTicks, p2YLabels, {fs: 10, m: 8, name: 'X2', ng: 27})
  ],
  series: [
    acfSeries(0, acfX1),
    acfSeries(1, acfX2),
    sc(2, x0Lower, 5), sc(2, x0Upper, 5),
    sc(3, x1Rising, 5), sc(3, x1Falling, 5),
    sc(4, x2Rising, 5.2), sc(4, x2Falling, 5.2)
  ],
  graphic: [
    txt(114, 389, 'Autocorrelations of', '24px ' + SERIF),
    txt(354, 389, 'X', 'italic 24px ' + SERIF),
    txt(374, 384, '(0)', '13px ' + SERIF),
    txt(736, 390, 'X', 'italic 27px ' + SERIF),
    txt(757, 385, '(0)', '16px ' + SERIF),
    txt(233, 807, 'X', 'italic 27px ' + SERIF),
    txt(255, 800, '(1)', '16px ' + SERIF),
    txt(734, 807, 'X', 'italic 27px ' + SERIF),
    txt(757, 800, '(2)', '16px ' + SERIF)
  ]
});
</script></body></html>
